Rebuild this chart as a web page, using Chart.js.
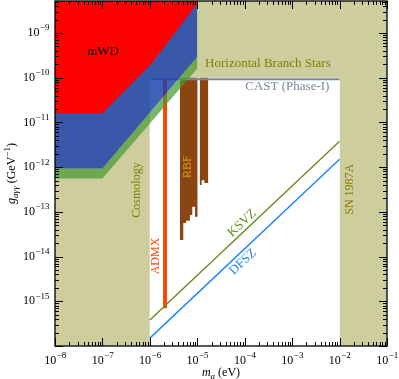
<!DOCTYPE html>
<html>
<head>
<meta charset="utf-8">
<script src="https://cdn.jsdelivr.net/npm/chart.js@4.4.0/dist/chart.umd.min.js"></script>
<style>
  html, body { margin: 0; padding: 0; background: #fff; }
  #wrap { width: 399px; height: 379px; }
</style>
</head>
<body>
<div id="wrap"><canvas id="axionChart"></canvas></div>
<script>
// axes (mass in eV, coupling in GeV^-1)
const massRange = [1e-8, 1e-1];
const couplingRange = [1e-16, 5.2e-9];
const massTicks = [1e-8, 1e-7, 1e-6, 1e-5, 1e-4, 1e-3, 1e-2, 1e-1];
const couplingTicks = [1e-15, 1e-14, 1e-13, 1e-12, 1e-11, 1e-10, 1e-9];

// excluded regions
const cosmologyMass = [1e-8, 1e-6];
const hbStarsCoupling = [1e-10, 1e-10];
const sn1987aMass = [1e-2, 1e-1];
const castMass = [1e-6, 1e-2];
const castCoupling = [9.3e-11, 9.3e-11];
const mwdMass = [1e-8, 1e-7, 1.1e-6, 1e-5];
const mwdCoupling = [1.6e-11, 1.6e-11, 2.1e-10, 4.6e-9];
const blueMass = [1e-8, 1e-7, 1e-5];
const blueCoupling = [9.3e-13, 9.3e-13, 2.95e-10];
const greenCoupling = [5.6e-13, 5.6e-13, 1.6e-10];
const admxMass = [1.9e-6, 2.3e-6];
const admxCoupling = [7e-16, 1e-10];
const rbfTop = 1e-10;
const rbfLowMass = [4.31e-6, 5.07e-6, 5.07e-6, 5.78e-6, 5.78e-6, 7.0e-6, 7.0e-6, 7.85e-6, 7.85e-6, 8.95e-6, 8.95e-6, 1.02e-5];
const rbfLowCoupling = [2.34e-14, 2.34e-14, 5.6e-14, 5.6e-14, 6.3e-14, 6.3e-14, 8.5e-14, 8.5e-14, 1.3e-13, 1.3e-13, 7.8e-14, 7.8e-14];
const rbfHighMass = [1.12e-5, 1.24e-5, 1.24e-5, 1.41e-5, 1.41e-5, 1.71e-5];
const rbfHighCoupling = [4.0e-13, 4.0e-13, 5.1e-13, 5.1e-13, 4.4e-13, 4.4e-13];

// QCD axion models
const modelMass = [1e-6, 1e-2];
const ksvzCoupling = [3.8e-16, 3.8e-12];
const dfszCoupling = [1.5e-16, 1.5e-12];

const KHAKI = "rgb(205,205,158)";
const OLIVE = "rgb(128,128,0)";
const SERIF = '"Liberation Serif", "DejaVu Serif", serif';

const pts = (xs, ys) => xs.map((x, i) => ({ x, y: ys[i] }));
const yTop = couplingRange[1];

function region(data, fill, color, order) {
  return {
    data, fill, order,
    backgroundColor: color,
    borderColor: color,
    borderWidth: 0,
    pointRadius: 0,
    tension: 0
  };
}

const datasets = [
  region(pts(cosmologyMass, [yTop, yTop]), "start", KHAKI, 20),
  region(pts(massRange, hbStarsCoupling), "end", KHAKI, 20),
  region(pts(sn1987aMass, [yTop, yTop]), "start", KHAKI, 20),
  region(pts(admxMass, [admxCoupling[1], admxCoupling[1]]), { value: admxCoupling[0] }, "rgb(255,69,0)", 15),
  region(pts(rbfLowMass, rbfLowCoupling), { value: rbfTop }, "rgb(139,69,19)", 14),
  region(pts(rbfHighMass, rbfHighCoupling), { value: rbfTop }, "rgb(139,69,19)", 14),
  { data: pts(modelMass, ksvzCoupling), fill: false, borderColor: "rgb(107,142,35)", borderWidth: 1.5, pointRadius: 0, order: 12 },
  { data: pts(modelMass, dfszCoupling), fill: false, borderColor: "rgb(30,136,255)", borderWidth: 1.5, pointRadius: 0, order: 12 },
  { data: pts(castMass, castCoupling), fill: false, borderColor: "rgb(120,135,158)", borderWidth: 2, pointRadius: 0, order: 11 },
];
const blueIndex = datasets.length;
datasets.push(region(pts(blueMass, blueCoupling), "end", "rgba(25,62,172,0.82)", 9));
datasets.push(region(pts(blueMass, greenCoupling), blueIndex, "rgba(70,155,50,0.72)", 10));
datasets.push(region(pts(mwdMass, mwdCoupling), "end", "rgb(255,0,0)", 5));

// labels placed in data coordinates
const annotations = [
  { text: "mWD", x: 1.03e-7, y: 3.8e-10, color: "#000", size: 13 },
  { text: "Horizontal Branch Stars", x: 1.46e-5, y: 2.1e-10, color: OLIVE, size: 13, align: "left" },
  { text: "CAST (Phase-I)", x: 6.1e-3, y: 6.2e-11, color: "rgb(120,135,158)", size: 13, align: "right" },
  { text: "Cosmology", x: 5.36e-7, y: 3.08e-13, color: OLIVE, size: 12, rot: "up" },
  { text: "ADMX", x: 1.35e-6, y: 1.03e-14, color: "rgb(255,69,0)", size: 12, rot: "up" },
  { text: "RBF", x: 6.46e-6, y: 1.03e-12, color: "rgb(215,150,30)", size: 12, rot: "up" },
  { text: "SN 1987A", x: 1.66e-2, y: 3.2e-13, color: OLIVE, size: 12, rot: "up" },
  { text: "KSVZ", x: 8.8e-5, y: 5.6e-14, color: "rgb(107,142,35)", size: 13, rot: "line" },
  { text: "DFSZ", x: 9.2e-5, y: 7.6e-15, color: "rgb(30,136,255)", size: 13, rot: "line" }
];

function drawPow10(ctx, exp, x, y, align) {
  const base = "10";
  const sup = "\u2212" + Math.abs(exp);
  ctx.font = "12px " + SERIF;
  const wb = ctx.measureText(base).width;
  ctx.font = "9px " + SERIF;
  const ws = ctx.measureText(sup).width;
  const left = align === "right" ? x - wb - ws : x - (wb + ws) / 2;
  ctx.textAlign = "left";
  ctx.textBaseline = "middle";
  ctx.font = "12px " + SERIF;
  ctx.fillText(base, left, y);
  ctx.font = "9px " + SERIF;
  ctx.fillText(sup, left + wb + 0.5, y - 5);
}

function minorValues(lo, hi) {
  const out = [];
  for (let e = Math.floor(Math.log10(lo)); e <= Math.ceil(Math.log10(hi)); e++) {
    for (let k = 2; k <= 9; k++) {
      const v = k * Math.pow(10, e);
      if (v > lo && v < hi) out.push(v);
    }
  }
  return out;
}

const frame = {
  id: "frame",
  afterDraw(chart) {
    const { ctx, chartArea: a, scales: { x, y } } = chart;
    ctx.save();

    // inward ticks on all four sides
    ctx.strokeStyle = "#000";
    ctx.lineWidth = 1;
    const tickX = (v, len) => {
      const px = Math.round(x.getPixelForValue(v)) + 0.5;
      ctx.beginPath();
      ctx.moveTo(px, a.bottom); ctx.lineTo(px, a.bottom - len);
      ctx.moveTo(px, a.top); ctx.lineTo(px, a.top + len);
      ctx.stroke();
    };
    const tickY = (v, len) => {
      const py = Math.round(y.getPixelForValue(v)) + 0.5;
      ctx.beginPath();
      ctx.moveTo(a.left, py); ctx.lineTo(a.left + len, py);
      ctx.moveTo(a.right, py); ctx.lineTo(a.right - len, py);
      ctx.stroke();
    };
    massTicks.forEach(v => tickX(v, 8));
    minorValues(massRange[0], massRange[1]).forEach(v => tickX(v, 4));
    [1e-16].concat(couplingTicks).forEach(v => tickY(v, 8));
    minorValues(couplingRange[0], couplingRange[1]).forEach(v => tickY(v, 4));

    ctx.lineWidth = 1.3;
    ctx.strokeRect(a.left, a.top, a.right - a.left, a.bottom - a.top);

    // tick labels
    ctx.fillStyle = "#000";
    massTicks.forEach(v => drawPow10(ctx, Math.round(Math.log10(v)), x.getPixelForValue(v), 361, "center"));
    couplingTicks.forEach(v => drawPow10(ctx, Math.round(Math.log10(v)), a.left - 6, y.getPixelForValue(v), "right"));

    // x title: m_a (eV)
    ctx.textBaseline = "alphabetic";
    ctx.textAlign = "left";
    const xt = [["m", "italic 12px", 0], ["a", "italic 9px", 2.5], [" (eV)", "12px", 0]];
    let w = 0;
    xt.forEach(([t, f]) => { ctx.font = f + " " + SERIF; w += ctx.measureText(t).width; });
    let cx = (a.left + a.right) / 2 - w / 2;
    xt.forEach(([t, f, dy]) => { ctx.font = f + " " + SERIF; ctx.fillText(t, cx, 376 + dy); cx += ctx.measureText(t).width; });

    // y title: g_{a gamma gamma} (GeV^-1)
    const yt = [["g", "italic 12px", 0], ["a\u03b3\u03b3", "italic 9px", 3], [" (GeV", "12px", 0], ["\u22121", "9px", -5], [")", "12px", 0]];
    w = 0;
    yt.forEach(([t, f]) => { ctx.font = f + " " + SERIF; w += ctx.measureText(t).width; });
    ctx.save();
    ctx.translate(15, (a.top + a.bottom) / 2);
    ctx.rotate(-Math.PI / 2);
    cx = -w / 2;
    yt.forEach(([t, f, dy]) => { ctx.font = f + " " + SERIF; ctx.fillText(t, cx, dy); cx += ctx.measureText(t).width; });
    ctx.restore();

    // region labels
    const lineAngle = Math.atan2(
      y.getPixelForValue(ksvzCoupling[1]) - y.getPixelForValue(ksvzCoupling[0]),
      x.getPixelForValue(modelMass[1]) - x.getPixelForValue(modelMass[0])
    );
    annotations.forEach(an => {
      ctx.save();
      ctx.translate(x.getPixelForValue(an.x), y.getPixelForValue(an.y));
      if (an.rot === "up") ctx.rotate(-Math.PI / 2);
      if (an.rot === "line") ctx.rotate(lineAngle);
      ctx.font = an.size + "px " + SERIF;
      ctx.fillStyle = an.color;
      ctx.textAlign = an.align || "center";
      ctx.textBaseline = "middle";
      ctx.fillText(an.text, 0, 0);
      ctx.restore();
    });

    ctx.restore();
  }
};

new Chart(document.getElementById("axionChart"), {
  type: "line",
  data: { datasets },
  options: {
    animation: false,
    responsive: true,
    maintainAspectRatio: false,
    devicePixelRatio: 1,
    layout: { padding: { top: 1, right: 12, left: 0, bottom: 0 } },
    plugins: { legend: { display: false }, tooltip: { enabled: false } },
    scales: {
      x: {
        type: "logarithmic",
        min: massRange[0],
        max: massRange[1],
        ticks: { display: false },
        grid: { display: false },
        border: { display: false },
        afterFit: s => { s.height = 33; }
      },
      y: {
        type: "logarithmic",
        min: couplingRange[0],
        max: couplingRange[1],
        ticks: { display: false },
        grid: { display: false },
        border: { display: false },
        afterFit: s => { s.width = 55; }
      }
    }
  },
  plugins: [frame]
});
</script>
</body>
</html>
